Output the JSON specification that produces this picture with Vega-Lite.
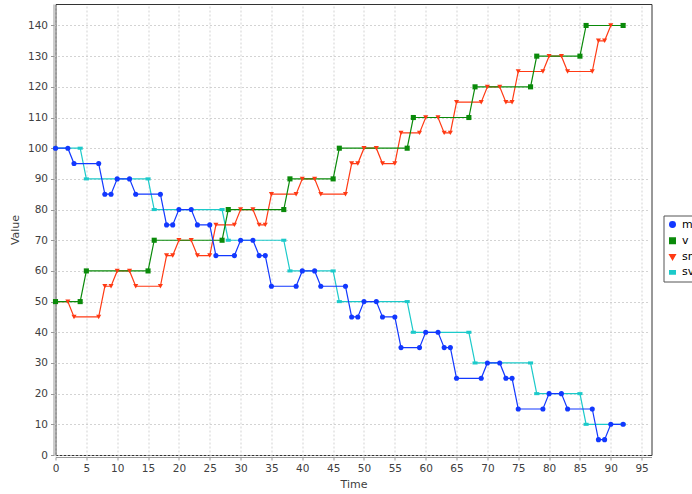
{
  "$schema": "https://vega.github.io/schema/vega-lite/v6.json",
  "width": 596,
  "height": 451,
  "autosize": {"type": "none"},
  "padding": {"left": 55.5, "top": 4, "right": 40.5, "bottom": 39},
  "background": "white",
  "config": {
    "view": {"stroke": "#333333", "strokeWidth": 1},
    "font": "DejaVu Sans",
    "axis": {
      "labelFont": "DejaVu Sans",
      "labelFontSize": 10.5,
      "labelColor": "#404040",
      "titleFont": "DejaVu Sans",
      "titleFontSize": 11,
      "titleFontWeight": "normal",
      "titleColor": "#404040",
      "domainColor": "#999999",
      "tickColor": "#999999",
      "tickSize": 3,
      "gridColor": "#c8c8c8",
      "gridDash": [2, 2],
      "gridWidth": 0.8,
      "offset": 2
    },
    "legend": {
      "orient": "none",
      "legendX": 608,
      "legendY": 211.5,
      "strokeColor": "#555555",
      "fillColor": "white",
      "padding": 3.5,
      "labelFont": "DejaVu Sans",
      "labelFontSize": 11,
      "labelColor": "#000000",
      "rowPadding": 3.3,
      "symbolSize": 30
    }
  },
  "data": {
    "values": [
      {"s": "sv", "t": 0, "value": 100}, {"s": "sv", "t": 4, "value": 100}, {"s": "sv", "t": 5, "value": 90}, {"s": "sv", "t": 15, "value": 90},
      {"s": "sv", "t": 16, "value": 80}, {"s": "sv", "t": 27, "value": 80}, {"s": "sv", "t": 28, "value": 70}, {"s": "sv", "t": 37, "value": 70},
      {"s": "sv", "t": 38, "value": 60}, {"s": "sv", "t": 45, "value": 60}, {"s": "sv", "t": 46, "value": 50}, {"s": "sv", "t": 57, "value": 50},
      {"s": "sv", "t": 58, "value": 40}, {"s": "sv", "t": 67, "value": 40}, {"s": "sv", "t": 68, "value": 30}, {"s": "sv", "t": 77, "value": 30},
      {"s": "sv", "t": 78, "value": 20}, {"s": "sv", "t": 85, "value": 20}, {"s": "sv", "t": 86, "value": 10}, {"s": "sv", "t": 92, "value": 10},

      {"s": "sm", "t": 0, "value": 50}, {"s": "sm", "t": 2, "value": 50}, {"s": "sm", "t": 3, "value": 45}, {"s": "sm", "t": 7, "value": 45},
      {"s": "sm", "t": 8, "value": 55}, {"s": "sm", "t": 9, "value": 55}, {"s": "sm", "t": 10, "value": 60}, {"s": "sm", "t": 12, "value": 60},
      {"s": "sm", "t": 13, "value": 55}, {"s": "sm", "t": 17, "value": 55}, {"s": "sm", "t": 18, "value": 65}, {"s": "sm", "t": 19, "value": 65},
      {"s": "sm", "t": 20, "value": 70}, {"s": "sm", "t": 22, "value": 70}, {"s": "sm", "t": 23, "value": 65}, {"s": "sm", "t": 25, "value": 65},
      {"s": "sm", "t": 26, "value": 75}, {"s": "sm", "t": 29, "value": 75}, {"s": "sm", "t": 30, "value": 80}, {"s": "sm", "t": 32, "value": 80},
      {"s": "sm", "t": 33, "value": 75}, {"s": "sm", "t": 34, "value": 75}, {"s": "sm", "t": 35, "value": 85}, {"s": "sm", "t": 39, "value": 85},
      {"s": "sm", "t": 40, "value": 90}, {"s": "sm", "t": 42, "value": 90}, {"s": "sm", "t": 43, "value": 85}, {"s": "sm", "t": 47, "value": 85},
      {"s": "sm", "t": 48, "value": 95}, {"s": "sm", "t": 49, "value": 95}, {"s": "sm", "t": 50, "value": 100}, {"s": "sm", "t": 52, "value": 100},
      {"s": "sm", "t": 53, "value": 95}, {"s": "sm", "t": 55, "value": 95}, {"s": "sm", "t": 56, "value": 105}, {"s": "sm", "t": 59, "value": 105},
      {"s": "sm", "t": 60, "value": 110}, {"s": "sm", "t": 62, "value": 110}, {"s": "sm", "t": 63, "value": 105}, {"s": "sm", "t": 64, "value": 105},
      {"s": "sm", "t": 65, "value": 115}, {"s": "sm", "t": 69, "value": 115}, {"s": "sm", "t": 70, "value": 120}, {"s": "sm", "t": 72, "value": 120},
      {"s": "sm", "t": 73, "value": 115}, {"s": "sm", "t": 74, "value": 115}, {"s": "sm", "t": 75, "value": 125}, {"s": "sm", "t": 79, "value": 125},
      {"s": "sm", "t": 80, "value": 130}, {"s": "sm", "t": 82, "value": 130}, {"s": "sm", "t": 83, "value": 125}, {"s": "sm", "t": 87, "value": 125},
      {"s": "sm", "t": 88, "value": 135}, {"s": "sm", "t": 89, "value": 135}, {"s": "sm", "t": 90, "value": 140}, {"s": "sm", "t": 92, "value": 140},

      {"s": "v", "t": 0, "value": 50}, {"s": "v", "t": 4, "value": 50}, {"s": "v", "t": 5, "value": 60}, {"s": "v", "t": 15, "value": 60},
      {"s": "v", "t": 16, "value": 70}, {"s": "v", "t": 27, "value": 70}, {"s": "v", "t": 28, "value": 80}, {"s": "v", "t": 37, "value": 80},
      {"s": "v", "t": 38, "value": 90}, {"s": "v", "t": 45, "value": 90}, {"s": "v", "t": 46, "value": 100}, {"s": "v", "t": 57, "value": 100},
      {"s": "v", "t": 58, "value": 110}, {"s": "v", "t": 67, "value": 110}, {"s": "v", "t": 68, "value": 120}, {"s": "v", "t": 77, "value": 120},
      {"s": "v", "t": 78, "value": 130}, {"s": "v", "t": 85, "value": 130}, {"s": "v", "t": 86, "value": 140}, {"s": "v", "t": 92, "value": 140},

      {"s": "m", "t": 0, "value": 100}, {"s": "m", "t": 2, "value": 100}, {"s": "m", "t": 3, "value": 95}, {"s": "m", "t": 7, "value": 95},
      {"s": "m", "t": 8, "value": 85}, {"s": "m", "t": 9, "value": 85}, {"s": "m", "t": 10, "value": 90}, {"s": "m", "t": 12, "value": 90},
      {"s": "m", "t": 13, "value": 85}, {"s": "m", "t": 17, "value": 85}, {"s": "m", "t": 18, "value": 75}, {"s": "m", "t": 19, "value": 75},
      {"s": "m", "t": 20, "value": 80}, {"s": "m", "t": 22, "value": 80}, {"s": "m", "t": 23, "value": 75}, {"s": "m", "t": 25, "value": 75},
      {"s": "m", "t": 26, "value": 65}, {"s": "m", "t": 29, "value": 65}, {"s": "m", "t": 30, "value": 70}, {"s": "m", "t": 32, "value": 70},
      {"s": "m", "t": 33, "value": 65}, {"s": "m", "t": 34, "value": 65}, {"s": "m", "t": 35, "value": 55}, {"s": "m", "t": 39, "value": 55},
      {"s": "m", "t": 40, "value": 60}, {"s": "m", "t": 42, "value": 60}, {"s": "m", "t": 43, "value": 55}, {"s": "m", "t": 47, "value": 55},
      {"s": "m", "t": 48, "value": 45}, {"s": "m", "t": 49, "value": 45}, {"s": "m", "t": 50, "value": 50}, {"s": "m", "t": 52, "value": 50},
      {"s": "m", "t": 53, "value": 45}, {"s": "m", "t": 55, "value": 45}, {"s": "m", "t": 56, "value": 35}, {"s": "m", "t": 59, "value": 35},
      {"s": "m", "t": 60, "value": 40}, {"s": "m", "t": 62, "value": 40}, {"s": "m", "t": 63, "value": 35}, {"s": "m", "t": 64, "value": 35},
      {"s": "m", "t": 65, "value": 25}, {"s": "m", "t": 69, "value": 25}, {"s": "m", "t": 70, "value": 30}, {"s": "m", "t": 72, "value": 30},
      {"s": "m", "t": 73, "value": 25}, {"s": "m", "t": 74, "value": 25}, {"s": "m", "t": 75, "value": 15}, {"s": "m", "t": 79, "value": 15},
      {"s": "m", "t": 80, "value": 20}, {"s": "m", "t": 82, "value": 20}, {"s": "m", "t": 83, "value": 15}, {"s": "m", "t": 87, "value": 15},
      {"s": "m", "t": 88, "value": 5}, {"s": "m", "t": 89, "value": 5}, {"s": "m", "t": 90, "value": 10}, {"s": "m", "t": 92, "value": 10}
    ]
  },
  "encoding": {
    "x": {
      "field": "t",
      "type": "quantitative",
      "scale": {"domain": [0, 96.6], "nice": false, "zero": false},
      "axis": {
        "title": "Time",
        "values": [0, 5, 10, 15, 20, 25, 30, 35, 40, 45, 50, 55, 60, 65, 70, 75, 80, 85, 90, 95],
        "labelPadding": 3,
        "titlePadding": 5,
        "labelFlush": false
      }
    },
    "y": {
      "field": "value",
      "type": "quantitative",
      "scale": {"domain": [0, 147], "nice": false, "zero": false},
      "axis": {
        "title": "Value",
        "values": [0, 10, 20, 30, 40, 50, 60, 70, 80, 90, 100, 110, 120, 130, 140],
        "labelPadding": 3,
        "titlePadding": 7,
        "labelFlush": false
      }
    },
    "color": {
      "field": "s",
      "type": "nominal",
      "scale": {"domain": ["m", "v", "sm", "sv"], "range": ["#1238ff", "#0a8a0a", "#ff3a14", "#1ccaca"]},
      "legend": {"title": null}
    }
  },
  "layer": [
    {
      "mark": {"type": "line", "strokeWidth": 1.2}
    },
    {
      "mark": {"type": "point", "filled": true, "opacity": 1, "size": 26},
      "encoding": {
        "shape": {
          "field": "s",
          "type": "nominal",
          "scale": {"domain": ["m", "v", "sm", "sv"], "range": ["circle", "square", "triangle-down", "M-1,-0.6H1V0.6H-1Z"]},
          "legend": {"title": null}
        }
      }
    }
  ]
}
